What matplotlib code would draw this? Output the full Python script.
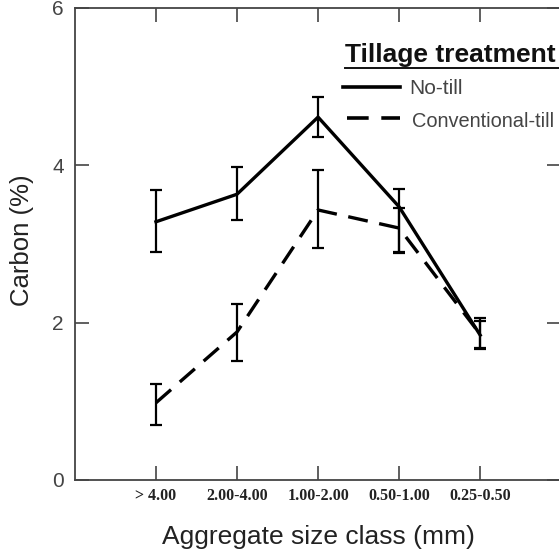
import numpy as np
import matplotlib.pyplot as plt
from matplotlib.lines import Line2D

size_classes = ['> 4.00', '2.00-4.00', '1.00-2.00', '0.50-1.00', '0.25-0.50']
no_till = [3.28, 3.63, 4.61, 3.47, 1.84]
no_till_lo = [2.90, 3.30, 4.36, 2.88, 1.66]
no_till_hi = [3.68, 3.98, 4.87, 3.70, 2.06]
conv_till = [0.98, 1.88, 3.43, 3.20, 1.85]
conv_till_lo = [0.70, 1.51, 2.95, 2.90, 1.68]
conv_till_hi = [1.22, 2.24, 3.94, 3.45, 2.02]

gray = '#444444'
x = np.arange(len(size_classes))

fig = plt.figure(figsize=(5.59, 5.51), dpi=100)
ax = fig.add_axes([0.134, 0.129, 0.870, 0.857])

for y, lo, hi, ls in [(no_till, no_till_lo, no_till_hi, '-'),
                      (conv_till, conv_till_lo, conv_till_hi, (0, (6, 3.5)))]:
    y = np.array(y)
    err = [y - np.array(lo), np.array(hi) - y]
    ax.errorbar(x, y, yerr=err, fmt='none', ecolor='black', elinewidth=1.6,
                capsize=4, capthick=1.6)
    ax.plot(x, y, color='black', lw=2.4, linestyle=ls)

ax.set_xlim(-1, 5)
ax.set_ylim(0, 6)
ax.set_yticks([0, 2, 4, 6])
ax.set_xticks(x)
ax.set_xticklabels(size_classes, fontfamily='Liberation Serif', fontweight='bold',
                   fontsize=11.5, color='#222222')
ax.tick_params(axis='both', direction='in', length=10, width=1.2, color=gray,
               top=True, right=True)
ax.tick_params(axis='y', labelsize=15, labelcolor=gray, pad=8)
ax.tick_params(axis='x', pad=6)
for lab in ax.get_yticklabels():
    lab.set_fontfamily('Liberation Sans')
for s in ax.spines.values():
    s.set_color(gray)
    s.set_linewidth(1.3)

ax.set_xlabel('Aggregate size class (mm)', fontfamily='Liberation Sans', fontsize=19,
              color='#222222', labelpad=15)
ax.set_ylabel('Carbon (%)', fontfamily='Liberation Sans', fontsize=18.5,
              color='#222222')
ax.yaxis.set_label_coords(-0.084, 0.508)

# legend
fig.text(0.617, 0.887, 'Tillage treatment', fontfamily='Liberation Sans',
         fontweight='bold', fontsize=19, color='#111111', va='baseline')
fig.add_artist(Line2D([0.617, 1.0], [0.876, 0.876], color='#111111', lw=1.4))
fig.add_artist(Line2D([0.614, 0.716], [0.843, 0.843], color='black', lw=2.6))
fig.add_artist(Line2D([0.620, 0.716], [0.786, 0.786], color='black', lw=2.6,
                      linestyle=(0, (6, 3.5))))
fig.text(0.733, 0.840, 'No-till', fontfamily='Liberation Sans', fontsize=15,
         color=gray, va='center')
fig.text(0.737, 0.780, 'Conventional-till', fontfamily='Liberation Sans', fontsize=14.4,
         color=gray, va='center')

fig.savefig('out.png', dpi=100)
